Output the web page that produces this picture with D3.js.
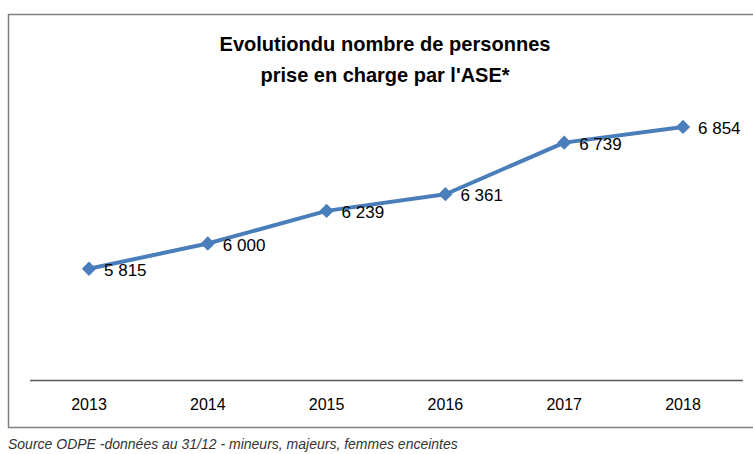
<!DOCTYPE html>
<html lang="fr">
<head>
<meta charset="UTF-8">
<title>Evolution ASE</title>
<script src="https://d3js.org/d3.v7.min.js"></script>
<style>
  body { margin: 0; background: #fff; }
  text { font-family: "Liberation Sans", Arial, sans-serif; }
</style>
</head>
<body>
<svg id="chart" width="753" height="454"></svg>
<script>
const years = ["2013", "2014", "2015", "2016", "2017", "2018"];
const values = [5815, 6000, 6239, 6361, 6739, 6854];
const titleLines = ["Evolutiondu nombre de personnes", "prise en charge par l'ASE*"];
const source = "Source ODPE -données au 31/12 - mineurs, majeurs, femmes enceintes";

const svg = d3.select("#chart");
const blue = "#4a7ebb";

// frame
svg.append("rect")
    .attr("x", 8.5).attr("y", 14.5)
    .attr("width", 760).attr("height", 413)
    .attr("fill", "#fff")
    .attr("stroke", "#7f7f7f")
    .attr("stroke-width", 1.5);

const x = d3.scaleBand()
    .domain(years)
    .range([29.6, 742.4]);

const y = d3.scaleLinear()
    .domain([5000, 7000])
    .range([380, 107]);

// title (condensed look of the original)
const titleWidths = [331, 249];
svg.append("g")
    .selectAll("text")
    .data(titleLines)
    .enter().append("text")
        .attr("x", 385)
        .attr("y", (d, i) => 51 + i * 31)
        .attr("text-anchor", "middle")
        .attr("textLength", (d, i) => titleWidths[i])
        .attr("lengthAdjust", "spacingAndGlyphs")
        .style("font-size", "21px")
        .style("font-weight", "bold")
        .attr("fill", "#000")
        .text(d => d);

// x axis
const xAxis = svg.append("g")
    .attr("transform", "translate(0,380)")
    .call(d3.axisBottom(x).tickSize(0).tickPadding(19));
xAxis.select(".domain").attr("stroke", "#595959").attr("stroke-width", 1.5);
xAxis.selectAll("text")
    .style("font-size", "16px")
    .style("font-family", "\"Liberation Sans\", Arial, sans-serif")
    .attr("fill", "#000");

const cx = d => x(d) + x.bandwidth() / 2;

// line
const line = d3.line()
    .x((d, i) => cx(years[i]))
    .y(d => y(d));

svg.append("path")
    .datum(values)
    .attr("fill", "none")
    .attr("stroke", blue)
    .attr("stroke-width", 4)
    .attr("stroke-linejoin", "round")
    .attr("d", line);

// markers
svg.append("g")
    .selectAll("path")
    .data(values)
    .enter().append("path")
        .attr("transform", (d, i) => `translate(${cx(years[i])},${y(d)})`)
        .attr("d", d3.symbol(d3.symbolDiamond2, 130))
        .attr("fill", blue);

// value labels
const fmt = v => d3.format(",")(v).replace(",", " ");
svg.append("g")
    .selectAll("text")
    .data(values)
    .enter().append("text")
        .attr("x", (d, i) => cx(years[i]) + 15)
        .attr("y", d => y(d) + 7)
        .style("font-size", "17px")
        .attr("fill", "#000")
        .text(fmt);

// source
svg.append("text")
    .attr("x", 8)
    .attr("y", 449)
    .style("font-size", "14px")
    .style("font-style", "italic")
    .attr("fill", "#333")
    .text(source);
</script>
</body>
</html>
